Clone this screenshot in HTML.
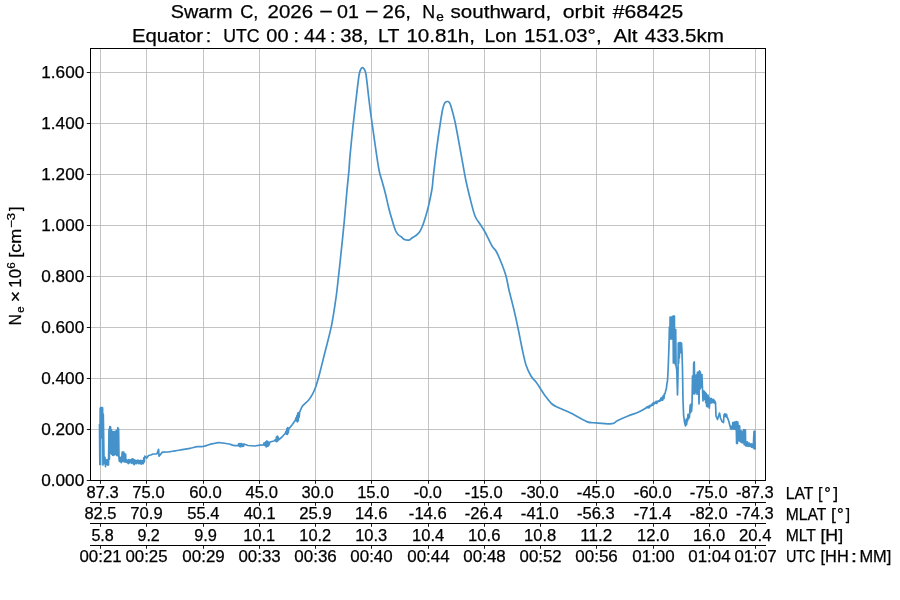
<!DOCTYPE html><html><head><meta charset="utf-8"><style>html,body{margin:0;padding:0;background:#fff;}svg{display:block;}text{font-family:"Liberation Sans",sans-serif;fill:#000;stroke:#000;stroke-width:0.25px;}svg{will-change:transform;}</style></head><body>
<svg width="900" height="600" viewBox="0 0 900 600">
<rect width="900" height="600" fill="#fff"/>
<path d="M100.5 48V480M146.5 48V480M203.5 48V480M259.5 48V480M315.5 48V480M371.5 48V480M428.5 48V480M484.5 48V480M540.5 48V480M596.5 48V480M653.5 48V480M709.5 48V480M755.5 48V480M90 429.5H765M90 378.5H765M90 327.5H765M90 276.5H765M90 225.5H765M90 174.5H765M90 123.5H765M90 72.5H765" stroke="#b0b0b0" stroke-opacity="0.75" stroke-width="1" fill="none"/>
<path d="M99.50 424.00L99.85 464.50L100.20 408.00L100.55 464.50L100.80 407.50L101.15 438.00L101.50 407.50L101.85 438.00L102.20 407.50L102.60 408.00L102.95 465.00L103.30 414.00L104.00 457.49L104.50 463.61L105.00 457.43L105.50 466.72L106.00 460.20L106.50 464.23L107.00 459.48L107.50 465.04L108.00 460.12L108.50 464.98L109.00 429.08L109.40 459.22L109.80 426.58L110.20 453.54L110.60 427.02L111.00 451.35L111.40 429.51L111.80 454.21L112.20 431.45L112.60 455.05L113.00 431.95L113.40 455.41L113.80 431.57L114.20 454.87L114.60 432.42L115.00 454.18L115.40 431.38L115.80 454.36L116.20 430.97L116.60 455.42L117.00 429.96L117.40 454.96L117.80 427.72L118.20 455.95L118.60 428.78L119.00 458.68L119.45 461.42L119.90 457.71L120.35 461.74L120.80 457.43L121.25 462.58L121.70 458.94L122.20 452.00L122.60 461.50L123.00 452.00L123.40 461.50L123.80 452.00L124.00 454.00L124.40 462.00L124.80 454.00L125.20 462.00L125.60 454.00L125.80 459.11L126.30 462.13L126.80 460.00L127.30 462.63L127.80 460.02L128.30 463.70L128.80 459.50L129.30 462.97L129.80 459.99L130.30 461.92L130.80 459.91L131.30 463.05L131.80 459.16L132.30 462.95L132.80 458.94L133.30 463.85L133.80 459.68L134.30 464.67L134.80 459.98L135.30 463.38L135.80 460.54L136.30 463.60L136.80 460.69L137.30 462.74L137.80 460.14L138.30 463.58L138.80 460.56L139.30 463.33L139.80 460.86L140.30 463.58L140.80 460.31L141.30 464.21L141.80 460.86L142.30 463.39L142.80 460.71L143.30 463.72L143.80 457.80L144.30 461.84L144.80 456.22L146.90 458.00L148.50 455.50L150.80 455.00L153.00 454.00L156.90 453.80L158.60 449.30L159.00 456.20L162.40 452.10L168.00 452.00C170.10 451.78 173.00 451.13 175.00 450.80C177.00 450.47 177.50 450.42 180.00 450.00C182.50 449.58 187.12 448.85 190.00 448.30C192.88 447.75 195.08 447.00 197.30 446.70C199.52 446.40 201.52 446.78 203.30 446.50C205.08 446.22 206.38 445.47 208.00 445.00C209.62 444.53 211.22 444.08 213.00 443.70C214.78 443.32 216.87 442.78 218.70 442.70C220.53 442.62 222.23 442.98 224.00 443.20C225.77 443.42 227.75 443.65 229.30 444.00C230.85 444.35 231.85 445.05 233.30 445.30C234.75 445.55 237.12 445.73 238.00 445.50C238.88 445.27 238.43 443.84 238.60 443.94C238.77 444.03 238.90 446.14 239.05 446.07C239.20 446.00 239.35 443.37 239.50 443.52C239.65 443.66 239.80 446.95 239.95 446.95C240.10 446.94 240.25 443.52 240.40 443.49L240.85 446.76L241.30 443.65L241.75 445.96L242.20 444.05L242.65 446.33L243.10 444.21L243.55 446.05L244.00 444.04L248.00 445.50L254.70 446.00L260.00 445.20L263.50 444.80L264.00 443.08L264.45 445.29L264.90 442.92L265.35 445.71L265.80 441.88L266.25 446.98L266.70 441.11L267.15 446.06L267.60 441.43L268.05 446.05L268.50 442.00L268.95 444.91L270.00 442.00L274.00 441.00L275.50 439.60L275.95 441.27L276.40 437.10L276.85 441.72L277.30 435.99L277.75 440.90L278.20 437.02L278.65 439.86L282.00 437.00L285.50 433.00L286.00 431.37L286.45 434.16L286.90 428.62L287.35 434.35L287.80 427.52L288.25 432.87L288.70 429.06L292.00 425.00L295.50 420.00L296.00 417.79L296.45 420.84L296.90 415.62L297.35 421.87L297.80 413.14L298.25 420.94L298.70 412.72L299.15 417.20L299.60 412.24L302.00 406.70C303.52 404.66 307.03 401.95 308.70 400.00C310.37 398.05 310.90 397.00 312.00 395.00C313.10 393.00 314.08 391.38 315.30 388.00C316.52 384.62 317.73 380.48 319.30 374.70C320.87 368.92 322.70 361.30 324.70 353.30C326.70 345.30 329.53 335.13 331.30 326.70C333.07 318.27 334.35 308.82 335.30 302.70C336.25 296.58 336.22 296.62 337.00 290.00C337.78 283.38 338.83 274.00 340.00 263.00C341.17 252.00 342.83 236.17 344.00 224.00C345.17 211.83 346.17 199.00 347.00 190.00C347.83 181.00 348.50 175.67 349.00 170.00C349.50 164.33 349.33 163.33 350.00 156.00C350.67 148.67 352.00 135.33 353.00 126.00C354.00 116.67 355.00 108.42 356.00 100.00C357.00 91.58 358.17 80.70 359.00 75.50C359.83 70.30 360.42 70.12 361.00 68.80C361.58 67.48 362.00 67.60 362.50 67.60C363.00 67.60 363.42 67.65 364.00 68.80C364.58 69.95 365.17 69.30 366.00 74.50C366.83 79.70 368.07 92.42 369.00 100.00C369.93 107.58 370.60 112.67 371.60 120.00C372.60 127.33 373.77 135.67 375.00 144.00C376.23 152.33 377.83 163.83 379.00 170.00C380.17 176.17 380.92 177.00 382.00 181.00C383.08 185.00 384.33 189.33 385.50 194.00C386.67 198.67 387.75 204.17 389.00 209.00C390.25 213.83 391.92 219.42 393.00 223.00C394.08 226.58 394.67 228.58 395.50 230.50C396.33 232.42 397.00 233.42 398.00 234.50C399.00 235.58 400.58 236.25 401.50 237.00C402.42 237.75 402.67 238.50 403.50 239.00C404.33 239.50 405.50 239.83 406.50 240.00C407.50 240.17 408.50 240.42 409.50 240.00C410.50 239.58 411.42 238.25 412.50 237.50C413.58 236.75 414.83 236.42 416.00 235.50C417.17 234.58 418.42 233.58 419.50 232.00C420.58 230.42 421.50 228.50 422.50 226.00C423.50 223.50 424.50 220.33 425.50 217.00C426.50 213.67 427.42 210.67 428.50 206.00C429.58 201.33 431.20 193.88 432.00 189.00C432.80 184.12 432.52 183.48 433.30 176.70C434.08 169.92 435.45 157.75 436.70 148.30C437.95 138.85 439.83 126.38 440.80 120.00C441.77 113.62 441.93 112.67 442.50 110.00C443.07 107.33 443.62 105.37 444.20 104.00C444.78 102.63 445.45 102.22 446.00 101.80C446.55 101.38 447.00 101.47 447.50 101.50C448.00 101.53 448.45 101.28 449.00 102.00C449.55 102.72 449.80 102.52 450.80 105.80C451.80 109.08 453.47 114.62 455.00 121.70C456.53 128.78 458.47 139.97 460.00 148.30C461.53 156.63 463.20 166.25 464.20 171.70C465.20 177.15 465.03 176.62 466.00 181.00C466.97 185.38 468.50 192.17 470.00 198.00C471.50 203.83 473.33 211.67 475.00 216.00C476.67 220.33 478.33 221.33 480.00 224.00C481.67 226.67 483.00 228.33 485.00 232.00C487.00 235.67 490.17 242.83 492.00 246.00C493.83 249.17 494.50 248.33 496.00 251.00C497.50 253.67 499.33 257.83 501.00 262.00C502.67 266.17 504.67 271.33 506.00 276.00C507.33 280.67 507.67 284.33 509.00 290.00C510.33 295.67 512.50 303.67 514.00 310.00C515.50 316.33 516.67 321.67 518.00 328.00C519.33 334.33 520.67 341.83 522.00 348.00C523.33 354.17 524.50 360.33 526.00 365.00C527.50 369.67 529.33 373.17 531.00 376.00C532.67 378.83 534.50 380.00 536.00 382.00C537.50 384.00 538.45 385.67 540.00 388.00C541.55 390.33 543.30 393.33 545.30 396.00C547.30 398.67 549.77 402.05 552.00 404.00C554.23 405.95 555.58 406.18 558.70 407.70C561.82 409.22 566.03 410.78 570.70 413.10C575.37 415.42 582.48 419.97 586.70 421.60C590.92 423.23 591.78 422.55 596.00 422.90C600.22 423.25 608.45 424.07 612.00 423.70C615.55 423.33 614.63 421.98 617.30 420.70C619.97 419.42 624.43 417.45 628.00 416.00C631.57 414.55 635.70 413.33 638.70 412.00C641.70 410.67 644.70 408.83 646.00 408.00L646.50 407.02L647.10 407.60L647.70 406.70L648.30 407.85L648.90 406.06L649.50 407.61L650.10 405.38L650.70 405.87L651.30 405.02L651.90 405.48L652.50 403.48L653.10 405.16L653.70 402.58L654.30 403.89L654.90 402.28L655.50 403.21L656.10 401.32L656.70 403.48L657.30 401.38L657.90 401.75L658.50 400.82L659.10 401.47L659.70 400.13L660.30 400.91L660.90 398.12L661.50 400.26L662.10 397.30L662.70 400.09L663.30 395.66L663.90 398.58L664.50 393.70L665.10 393.71L665.70 390.59L666.30 389.04L666.90 383.86L667.50 380.78L668.20 368.00L669.00 345.00L669.40 327.00L669.50 327.00L669.85 339.00L670.10 317.00L670.45 339.00L670.80 317.00L671.15 339.00L671.50 317.00L671.80 322.00L672.15 339.00L672.50 322.00L673.00 316.00L673.35 363.00L673.70 316.00L674.05 363.00L674.40 316.00L674.75 363.00L675.00 329.00L675.35 364.58L675.70 329.58L676.05 365.75L676.80 370.00L677.50 395.00L678.00 375.00L678.30 343.00L678.65 363.32L679.00 342.79L679.35 357.97L679.70 342.59L680.05 352.97L680.40 342.70L680.75 352.62L681.50 343.00L682.00 352.00L682.50 370.00L683.00 400.00L683.60 415.00L684.50 422.00L685.50 426.00L686.20 419.27L686.65 424.55L687.10 418.47L687.55 420.84L688.00 414.33L688.45 418.82L688.90 414.47L689.35 417.59L689.80 411.24L690.20 404.99L690.65 412.76L691.10 404.03L691.55 411.25L692.00 405.17L692.50 376.00L693.20 394.00L693.70 363.00L694.30 362.00L694.80 394.00L695.00 377.50L695.40 392.19L695.80 375.24L696.20 392.10L696.60 374.81L697.00 394.26L697.40 372.44L697.80 393.96L698.20 372.01L699.00 404.00L699.50 370.94L699.90 389.25L700.30 371.76L700.70 387.79L701.10 374.24L701.50 385.50L701.90 374.59L703.00 401.00L703.50 391.10L703.95 398.40L704.40 391.34L704.85 399.67L705.30 392.49L705.75 402.61L706.20 393.63L706.65 406.32L707.10 395.04L707.55 406.92L708.00 395.02L708.45 405.66L708.90 397.45L709.35 408.10L710.00 398.52L710.50 402.82L711.00 398.32L711.50 402.85L712.00 399.32L712.50 402.43L713.00 399.32L713.50 402.72L714.00 400.16L714.50 402.94L715.00 401.21L715.50 402.70L716.00 416.00L717.50 419.50L719.50 413.00L720.50 418.00L722.00 421.50L723.50 422.50L724.00 415.00L724.80 413.84L725.25 416.22L725.70 414.27L726.15 416.77L726.60 414.29L727.05 417.09L728.00 419.00L729.00 422.00L730.00 426.00L730.20 426.01L730.65 428.84L731.10 426.28L731.55 429.04L732.00 426.64L732.45 428.78L732.80 422.52L733.20 428.83L733.60 422.49L734.00 429.30L734.40 421.98L734.80 428.76L735.20 422.60L735.60 429.40L736.00 422.59L736.20 421.50L736.60 443.50L737.00 421.75L737.40 443.50L737.80 422.00L738.00 425.50L738.40 440.60L738.80 425.70L739.20 440.80L739.60 425.90L740.00 441.00L740.20 431.60L740.60 441.90L741.00 430.89L741.40 442.15L741.80 431.24L742.20 442.96L742.60 432.13L743.00 442.75L743.40 431.18L743.80 429.50L744.20 444.62L744.60 429.75L745.00 444.88L745.40 430.00L745.60 441.69L746.05 446.10L746.50 442.01L746.95 445.75L747.40 441.85L747.85 446.21L748.30 443.29L748.75 446.29L749.20 443.14L749.65 445.99L750.10 444.29L750.55 446.24L751.00 443.80L751.45 447.26L751.90 444.03L752.35 446.92L752.80 444.58L753.25 447.83L754.00 431.50L754.40 449.00L754.80 431.00L755.20 449.50" stroke="#4592ca" stroke-width="1.7" fill="none" stroke-linejoin="round"/>
<path d="M90.5 48V481M765.5 48V481M90 48.5H766" stroke="#000" stroke-width="1" fill="none"/>
<path d="M90 480.5H766M90 502.5H766M90 523.5H766M90 545.5H766" stroke="#000" stroke-width="1" fill="none"/>
<path d="M100.5 481V483.8M146.5 481V483.8M203.5 481V483.8M259.5 481V483.8M315.5 481V483.8M371.5 481V483.8M428.5 481V483.8M484.5 481V483.8M540.5 481V483.8M596.5 481V483.8M653.5 481V483.8M709.5 481V483.8M755.5 481V483.8M100.5 503V505.8M146.5 503V505.8M203.5 503V505.8M259.5 503V505.8M315.5 503V505.8M371.5 503V505.8M428.5 503V505.8M484.5 503V505.8M540.5 503V505.8M596.5 503V505.8M653.5 503V505.8M709.5 503V505.8M755.5 503V505.8M100.5 524V526.8M146.5 524V526.8M203.5 524V526.8M259.5 524V526.8M315.5 524V526.8M371.5 524V526.8M428.5 524V526.8M484.5 524V526.8M540.5 524V526.8M596.5 524V526.8M653.5 524V526.8M709.5 524V526.8M755.5 524V526.8M100.5 546V548.8M146.5 546V548.8M203.5 546V548.8M259.5 546V548.8M315.5 546V548.8M371.5 546V548.8M428.5 546V548.8M484.5 546V548.8M540.5 546V548.8M596.5 546V548.8M653.5 546V548.8M709.5 546V548.8M755.5 546V548.8M86.8 480.5H90M86.8 429.5H90M86.8 378.5H90M86.8 327.5H90M86.8 276.5H90M86.8 225.5H90M86.8 174.5H90M86.8 123.5H90M86.8 72.5H90" stroke="#000" stroke-width="0.9" fill="none"/>
<text x="41.21" y="485.80" font-size="16.30" textLength="43.07" lengthAdjust="spacingAndGlyphs">0.000</text>
<text x="41.21" y="434.80" font-size="16.30" textLength="43.07" lengthAdjust="spacingAndGlyphs">0.200</text>
<text x="41.21" y="383.80" font-size="16.30" textLength="43.07" lengthAdjust="spacingAndGlyphs">0.400</text>
<text x="41.21" y="332.80" font-size="16.30" textLength="43.07" lengthAdjust="spacingAndGlyphs">0.600</text>
<text x="41.21" y="281.80" font-size="16.30" textLength="43.07" lengthAdjust="spacingAndGlyphs">0.800</text>
<text x="41.24" y="230.80" font-size="16.30" textLength="43.03" lengthAdjust="spacingAndGlyphs">1.000</text>
<text x="41.24" y="179.80" font-size="16.30" textLength="43.03" lengthAdjust="spacingAndGlyphs">1.200</text>
<text x="41.24" y="128.80" font-size="16.30" textLength="43.03" lengthAdjust="spacingAndGlyphs">1.400</text>
<text x="41.24" y="77.80" font-size="16.30" textLength="43.03" lengthAdjust="spacingAndGlyphs">1.600</text>
<text x="86.50" y="497.90" font-size="16.30" textLength="32.21" lengthAdjust="spacingAndGlyphs">87.3</text>
<text x="132.37" y="497.90" font-size="16.30" textLength="32.25" lengthAdjust="spacingAndGlyphs">75.0</text>
<text x="189.28" y="497.90" font-size="16.30" textLength="32.44" lengthAdjust="spacingAndGlyphs">60.0</text>
<text x="245.59" y="497.90" font-size="16.30" textLength="32.29" lengthAdjust="spacingAndGlyphs">45.0</text>
<text x="301.55" y="497.90" font-size="16.30" textLength="32.12" lengthAdjust="spacingAndGlyphs">30.0</text>
<text x="357.17" y="497.90" font-size="16.30" textLength="32.24" lengthAdjust="spacingAndGlyphs">15.0</text>
<text x="413.75" y="497.90" font-size="16.30" textLength="28.01" lengthAdjust="spacingAndGlyphs">-0.0</text>
<text x="464.88" y="497.90" font-size="16.30" textLength="37.76" lengthAdjust="spacingAndGlyphs">-15.0</text>
<text x="520.88" y="497.90" font-size="16.30" textLength="37.76" lengthAdjust="spacingAndGlyphs">-30.0</text>
<text x="576.88" y="497.90" font-size="16.30" textLength="37.76" lengthAdjust="spacingAndGlyphs">-45.0</text>
<text x="633.88" y="497.90" font-size="16.30" textLength="37.76" lengthAdjust="spacingAndGlyphs">-60.0</text>
<text x="689.88" y="497.90" font-size="16.30" textLength="37.76" lengthAdjust="spacingAndGlyphs">-75.0</text>
<text x="735.98" y="497.90" font-size="16.30" textLength="37.62" lengthAdjust="spacingAndGlyphs">-87.3</text>
<text x="84.46" y="519.20" font-size="16.30" textLength="32.06" lengthAdjust="spacingAndGlyphs">82.5</text>
<text x="130.30" y="519.20" font-size="16.30" textLength="32.33" lengthAdjust="spacingAndGlyphs">70.9</text>
<text x="187.35" y="519.20" font-size="16.30" textLength="32.13" lengthAdjust="spacingAndGlyphs">55.4</text>
<text x="243.69" y="519.20" font-size="16.30" textLength="32.05" lengthAdjust="spacingAndGlyphs">40.1</text>
<text x="299.25" y="519.20" font-size="16.30" textLength="32.46" lengthAdjust="spacingAndGlyphs">25.9</text>
<text x="355.04" y="519.20" font-size="16.30" textLength="32.38" lengthAdjust="spacingAndGlyphs">14.6</text>
<text x="408.85" y="519.20" font-size="16.30" textLength="37.90" lengthAdjust="spacingAndGlyphs">-14.6</text>
<text x="464.80" y="519.20" font-size="16.30" textLength="37.75" lengthAdjust="spacingAndGlyphs">-26.4</text>
<text x="520.88" y="519.20" font-size="16.30" textLength="37.76" lengthAdjust="spacingAndGlyphs">-41.0</text>
<text x="576.98" y="519.20" font-size="16.30" textLength="37.62" lengthAdjust="spacingAndGlyphs">-56.3</text>
<text x="633.80" y="519.20" font-size="16.30" textLength="37.75" lengthAdjust="spacingAndGlyphs">-71.4</text>
<text x="689.88" y="519.20" font-size="16.30" textLength="37.76" lengthAdjust="spacingAndGlyphs">-82.0</text>
<text x="735.98" y="519.20" font-size="16.30" textLength="37.62" lengthAdjust="spacingAndGlyphs">-74.3</text>
<text x="91.42" y="540.90" font-size="16.30" textLength="22.42" lengthAdjust="spacingAndGlyphs">5.8</text>
<text x="137.44" y="540.90" font-size="16.30" textLength="22.37" lengthAdjust="spacingAndGlyphs">9.2</text>
<text x="194.20" y="540.90" font-size="16.30" textLength="22.81" lengthAdjust="spacingAndGlyphs">9.9</text>
<text x="243.28" y="540.90" font-size="16.30" textLength="31.99" lengthAdjust="spacingAndGlyphs">10.1</text>
<text x="299.35" y="540.90" font-size="16.30" textLength="31.89" lengthAdjust="spacingAndGlyphs">10.2</text>
<text x="355.18" y="540.90" font-size="16.30" textLength="32.10" lengthAdjust="spacingAndGlyphs">10.3</text>
<text x="412.00" y="540.90" font-size="16.30" textLength="32.23" lengthAdjust="spacingAndGlyphs">10.4</text>
<text x="468.04" y="540.90" font-size="16.30" textLength="32.38" lengthAdjust="spacingAndGlyphs">10.6</text>
<text x="524.09" y="540.90" font-size="16.30" textLength="32.28" lengthAdjust="spacingAndGlyphs">10.8</text>
<text x="580.35" y="540.90" font-size="16.30" textLength="31.89" lengthAdjust="spacingAndGlyphs">11.2</text>
<text x="637.07" y="540.90" font-size="16.30" textLength="32.24" lengthAdjust="spacingAndGlyphs">12.0</text>
<text x="693.07" y="540.90" font-size="16.30" textLength="32.24" lengthAdjust="spacingAndGlyphs">16.0</text>
<text x="739.14" y="540.90" font-size="16.30" textLength="32.37" lengthAdjust="spacingAndGlyphs">20.4</text>
<text x="79.53" y="562.30" font-size="16.30" textLength="42.10" lengthAdjust="spacingAndGlyphs">00:21</text>
<text x="125.50" y="562.30" font-size="16.30" textLength="42.05" lengthAdjust="spacingAndGlyphs">00:25</text>
<text x="182.36" y="562.30" font-size="16.30" textLength="42.42" lengthAdjust="spacingAndGlyphs">00:29</text>
<text x="238.44" y="562.30" font-size="16.30" textLength="42.20" lengthAdjust="spacingAndGlyphs">00:33</text>
<text x="294.30" y="562.30" font-size="16.30" textLength="42.47" lengthAdjust="spacingAndGlyphs">00:36</text>
<text x="350.33" y="562.30" font-size="16.30" textLength="42.33" lengthAdjust="spacingAndGlyphs">00:40</text>
<text x="407.25" y="562.30" font-size="16.30" textLength="42.33" lengthAdjust="spacingAndGlyphs">00:44</text>
<text x="463.35" y="562.30" font-size="16.30" textLength="42.38" lengthAdjust="spacingAndGlyphs">00:48</text>
<text x="519.60" y="562.30" font-size="16.30" textLength="42.00" lengthAdjust="spacingAndGlyphs">00:52</text>
<text x="575.30" y="562.30" font-size="16.30" textLength="42.47" lengthAdjust="spacingAndGlyphs">00:56</text>
<text x="632.33" y="562.30" font-size="16.30" textLength="42.33" lengthAdjust="spacingAndGlyphs">01:00</text>
<text x="688.25" y="562.30" font-size="16.30" textLength="42.33" lengthAdjust="spacingAndGlyphs">01:04</text>
<text x="734.48" y="562.30" font-size="16.30" textLength="42.23" lengthAdjust="spacingAndGlyphs">01:07</text>
<text x="785.87" y="498.80" font-size="16.30" textLength="27.58" lengthAdjust="spacingAndGlyphs">LAT</text>
<text x="818.05" y="498.80" font-size="16.30" textLength="4.47" lengthAdjust="spacingAndGlyphs">[</text>
<text x="824.22" y="498.80" font-size="16.30" textLength="6.56" lengthAdjust="spacingAndGlyphs">°</text>
<text x="833.16" y="498.80" font-size="16.30" textLength="4.89" lengthAdjust="spacingAndGlyphs">]</text>
<text x="785.86" y="519.80" font-size="16.30" textLength="40.39" lengthAdjust="spacingAndGlyphs">MLAT</text>
<text x="830.94" y="519.80" font-size="16.30" textLength="4.89" lengthAdjust="spacingAndGlyphs">[</text>
<text x="837.00" y="519.80" font-size="16.30" textLength="6.71" lengthAdjust="spacingAndGlyphs">°</text>
<text x="845.68" y="519.80" font-size="16.30" textLength="4.33" lengthAdjust="spacingAndGlyphs">]</text>
<text x="785.76" y="540.60" font-size="16.30" textLength="30.18" lengthAdjust="spacingAndGlyphs">MLT</text>
<text x="820.43" y="540.60" font-size="16.30" textLength="22.74" lengthAdjust="spacingAndGlyphs">[H]</text>
<text x="785.89" y="562.40" font-size="16.30" textLength="29.66" lengthAdjust="spacingAndGlyphs">UTC</text>
<text x="820.53" y="562.40" font-size="16.30" textLength="28.20" lengthAdjust="spacingAndGlyphs">[HH</text>
<text x="850.89" y="562.40" font-size="16.30" textLength="6.42" lengthAdjust="spacingAndGlyphs">:</text>
<text x="859.45" y="562.40" font-size="16.30" textLength="31.92" lengthAdjust="spacingAndGlyphs">MM]</text>
<text x="170.70" y="17.90" font-size="19.20" textLength="61.81" lengthAdjust="spacingAndGlyphs">Swarm</text>
<text x="240.18" y="17.90" font-size="19.20" textLength="18.12" lengthAdjust="spacingAndGlyphs">C,</text>
<text x="267.57" y="17.90" font-size="19.20" textLength="45.43" lengthAdjust="spacingAndGlyphs">2026</text>
<text x="319.15" y="17.90" font-size="19.20" textLength="13.59" lengthAdjust="spacingAndGlyphs">−</text>
<text x="337.03" y="17.90" font-size="19.20" textLength="21.85" lengthAdjust="spacingAndGlyphs">01</text>
<text x="364.95" y="17.90" font-size="19.20" textLength="13.59" lengthAdjust="spacingAndGlyphs">−</text>
<text x="382.57" y="17.90" font-size="19.20" textLength="28.51" lengthAdjust="spacingAndGlyphs">26,</text>
<text x="422.14" y="17.90" font-size="19.20" textLength="12.88" lengthAdjust="spacingAndGlyphs">N</text>
<text x="450.53" y="17.90" font-size="19.20" textLength="100.58" lengthAdjust="spacingAndGlyphs">southward,</text>
<text x="562.70" y="17.90" font-size="19.20" textLength="41.66" lengthAdjust="spacingAndGlyphs">orbit</text>
<text x="612.71" y="17.90" font-size="19.20" textLength="70.59" lengthAdjust="spacingAndGlyphs">#68425</text>
<text x="436.32" y="20.60" font-size="13.44" textLength="7.59" lengthAdjust="spacingAndGlyphs">e</text>
<text x="131.93" y="41.60" font-size="19.20" textLength="71.18" lengthAdjust="spacingAndGlyphs">Equator</text>
<text x="205.72" y="41.60" font-size="19.20" textLength="5.43" lengthAdjust="spacingAndGlyphs">:</text>
<text x="223.14" y="41.60" font-size="19.20" textLength="36.35" lengthAdjust="spacingAndGlyphs">UTC</text>
<text x="266.32" y="41.60" font-size="19.20" textLength="22.15" lengthAdjust="spacingAndGlyphs">00</text>
<text x="293.42" y="41.60" font-size="19.20" textLength="5.43" lengthAdjust="spacingAndGlyphs">:</text>
<text x="304.04" y="41.60" font-size="19.20" textLength="22.12" lengthAdjust="spacingAndGlyphs">44</text>
<text x="330.12" y="41.60" font-size="19.20" textLength="5.43" lengthAdjust="spacingAndGlyphs">:</text>
<text x="340.33" y="41.60" font-size="19.20" textLength="28.17" lengthAdjust="spacingAndGlyphs">38,</text>
<text x="378.00" y="41.60" font-size="19.20" textLength="21.29" lengthAdjust="spacingAndGlyphs">LT</text>
<text x="406.43" y="41.60" font-size="19.20" textLength="68.55" lengthAdjust="spacingAndGlyphs">10.81h,</text>
<text x="484.52" y="41.60" font-size="19.20" textLength="32.08" lengthAdjust="spacingAndGlyphs">Lon</text>
<text x="524.02" y="41.60" font-size="19.20" textLength="77.67" lengthAdjust="spacingAndGlyphs">151.03°,</text>
<text x="613.56" y="41.60" font-size="19.20" textLength="24.07" lengthAdjust="spacingAndGlyphs">Alt</text>
<text x="644.83" y="41.60" font-size="19.20" textLength="79.17" lengthAdjust="spacingAndGlyphs">433.5km</text>
<g transform="translate(21.3,324.0) rotate(-90)"><text x="-1.14" y="0.00" font-size="16.30" textLength="10.90" lengthAdjust="spacingAndGlyphs">N</text><text x="11.31" y="2.70" font-size="11.40" textLength="6.43" lengthAdjust="spacingAndGlyphs">e</text><text x="21.86" y="0.00" font-size="16.30" textLength="11.29" lengthAdjust="spacingAndGlyphs">×</text><text x="36.32" y="0.00" font-size="16.30" textLength="18.69" lengthAdjust="spacingAndGlyphs">10</text><text x="55.21" y="-6.30" font-size="11.40" textLength="6.49" lengthAdjust="spacingAndGlyphs">6</text><text x="66.31" y="0.00" font-size="16.30" textLength="29.12" lengthAdjust="spacingAndGlyphs">[cm</text><text x="96.15" y="-6.30" font-size="11.40" textLength="15.01" lengthAdjust="spacingAndGlyphs">−3</text><text x="112.98" y="0.00" font-size="16.30" textLength="4.42" lengthAdjust="spacingAndGlyphs">]</text></g>
</svg></body></html>
